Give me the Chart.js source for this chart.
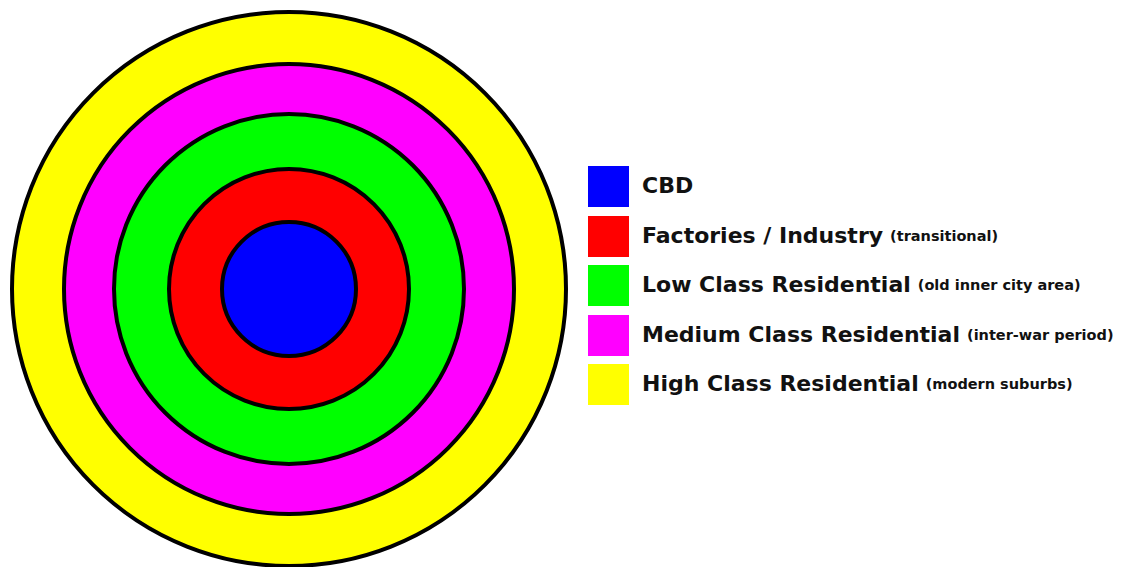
<!DOCTYPE html>
<html>
<head>
<meta charset="utf-8">
<script src="https://cdn.jsdelivr.net/npm/chart.js@4/dist/chart.umd.min.js"></script>
<style>
    html, body { margin: 0; padding: 0; background: #fff; overflow: hidden; }
    body { width: 1133px; height: 567px; position: relative; font-family: "DejaVu Sans", sans-serif; }
    #chartBox { position: absolute; left: 8px; top: 8px; width: 562px; height: 562px; }
    #legend { position: absolute; left: 586px; top: 166px; }
    .row { position: absolute; left: 0; white-space: nowrap; height: 42px; }
    .swatch { position: absolute; left: 2px; top: 0; width: 41px; height: 41px; }
    .label { position: absolute; left: 56px; top: 7px; font-weight: bold; font-size: 22px; color: #111; }
    .note { font-size: 14.5px; margin-left: 7px; position: relative; top: -2px; }
</style>
</head>
<body>
<div id="chartBox"><canvas id="zoneChart"></canvas></div>
<div id="legend"></div>
<script>
// zones from the centre outwards
const zones = ["CBD", "Factories / Industry", "Low Class Residential", "Medium Class Residential", "High Class Residential"];
const zoneNotes = ["", "(transitional)", "(old inner city area)", "(inter-war period)", "(modern suburbs)"];
const zoneColors = ["#0000ff", "#ff0000", "#00ff00", "#ff00ff", "#ffff00"];
// relative depth of each zone (ring thickness)
const zoneDepth = [67, 53, 55, 50, 52];

document.addEventListener("DOMContentLoaded", function () {
    /*
    |--------------------------------------------------------------------------
    | Concentric rings (one doughnut dataset per zone, outermost first)
    |--------------------------------------------------------------------------
    */
    const datasets = [];
    for (let i = zones.length - 1; i >= 0; i--) {
        datasets.push({
            label: zones[i],
            data: [1],
            backgroundColor: zoneColors[i],
            weight: zoneDepth[i],
            borderWidth: 0,
            hoverOffset: 0
        });
    }

    // black outline round every ring, taken from the arc elements
    const ringOutline = {
        id: "ringOutline",
        afterDatasetsDraw(chart) {
            const ctx = chart.ctx;
            ctx.save();
            ctx.strokeStyle = "#000";
            ctx.lineWidth = 4;
            chart.data.datasets.forEach((ds, i) => {
                const arc = chart.getDatasetMeta(i).data[0];
                if (!arc) return;
                ctx.beginPath();
                ctx.arc(arc.x, arc.y, arc.outerRadius, 0, Math.PI * 2);
                ctx.stroke();
            });
            ctx.restore();
        }
    };

    new Chart(document.getElementById("zoneChart"), {
        type: "doughnut",
        data: {
            labels: ["zone"],
            datasets: datasets
        },
        options: {
            responsive: true,
            maintainAspectRatio: false,
            animation: false,
            events: [],
            cutout: 0,
            layout: { padding: 4 },
            plugins: {
                legend: { display: false },
                tooltip: { enabled: false }
            }
        },
        plugins: [ringOutline]
    });

    /*
    |--------------------------------------------------------------------------
    | Legend
    |--------------------------------------------------------------------------
    */
    const legend = document.getElementById("legend");
    zones.forEach((name, i) => {
        const row = document.createElement("div");
        row.className = "row";
        row.style.top = (i * 49.5) + "px";
        row.innerHTML =
            '<div class="swatch" style="background:' + zoneColors[i] + '"></div>' +
            '<div class="label">' + name +
            (zoneNotes[i] ? '<span class="note">' + zoneNotes[i] + '</span>' : '') +
            '</div>';
        legend.appendChild(row);
    });
});
</script>
</body>
</html>
